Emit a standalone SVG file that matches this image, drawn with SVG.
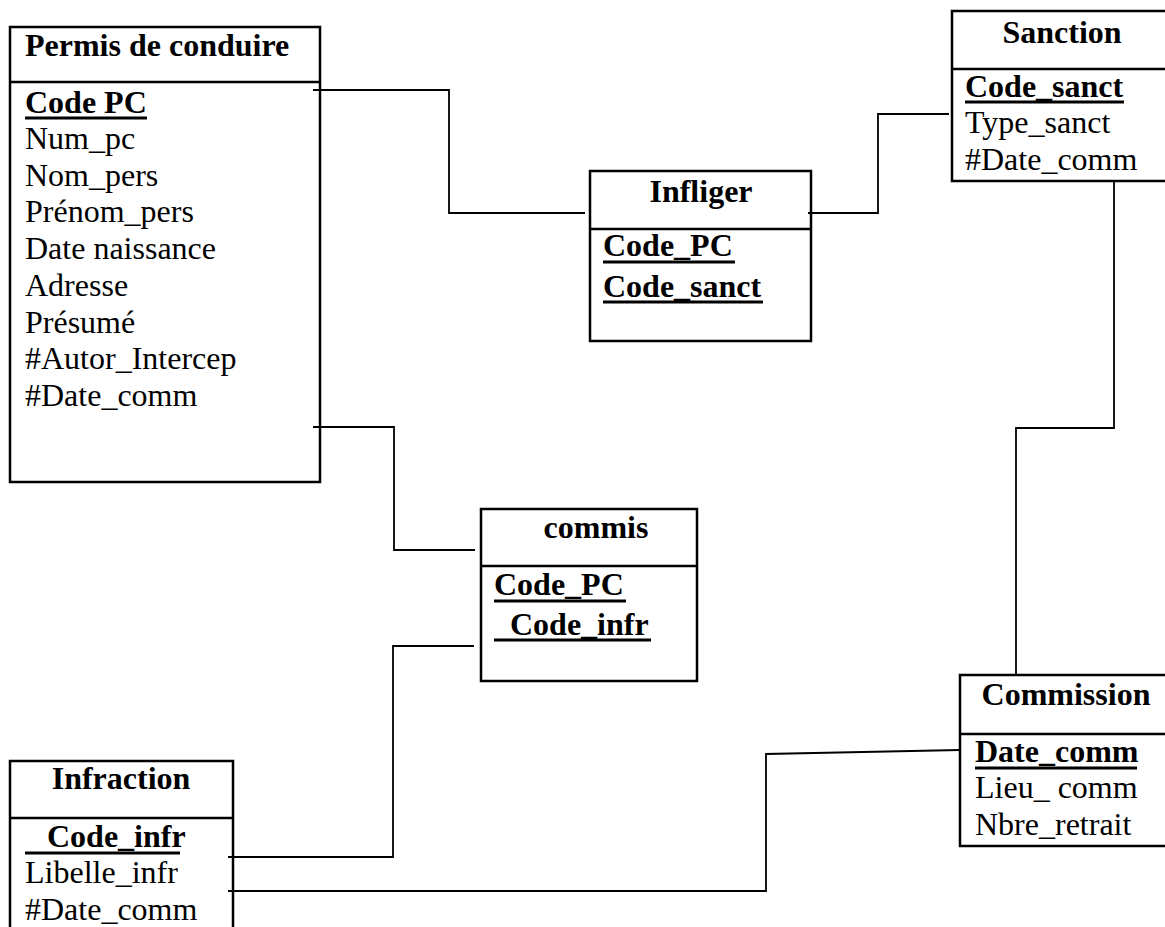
<svg xmlns="http://www.w3.org/2000/svg" width="1165" height="927" viewBox="0 0 1165 927">
<style>
.box{fill:#fff;stroke:#000;stroke-width:2.5}
.div{stroke:#000;stroke-width:2.5}
.ul{stroke:#000;stroke-width:3}
.conn{fill:none;stroke:#000;stroke-width:1.8}
text{font-family:"Liberation Serif","Times New Roman",serif;font-size:32px;fill:#000}
.b{font-weight:bold}
.c{text-anchor:middle}
</style>
<rect width="1165" height="927" fill="#fff"/>
<g id="permis">
<rect class="box" x="10" y="27" width="310" height="455"/>
<line class="div" x1="10" y1="82" x2="320" y2="82"/>
<text class="b" x="25" y="56">Permis de conduire</text>
<text class="b" x="25" y="113">Code PC</text>
<line class="ul" x1="25" y1="118" x2="147" y2="118"/>
<text x="25" y="149">Num_pc</text>
<text x="25" y="186">Nom_pers</text>
<text x="25" y="222">Prénom_pers</text>
<text x="25" y="259">Date naissance</text>
<text x="25" y="296">Adresse</text>
<text x="25" y="333">Présumé</text>
<text x="25" y="369">#Autor_Intercep</text>
<text x="25" y="406">#Date_comm</text>
</g>
<g id="sanction">
<rect class="box" x="952" y="11" width="216" height="170"/>
<line class="div" x1="952" y1="69" x2="1168" y2="69"/>
<text class="b c" x="1062" y="43">Sanction</text>
<text class="b" x="965" y="97">Code_sanct</text>
<line class="ul" x1="965" y1="102" x2="1124" y2="102"/>
<text x="965" y="133">Type_sanct</text>
<text x="965" y="170">#Date_comm</text>
</g>
<g id="infliger">
<rect class="box" x="590" y="171" width="221" height="170"/>
<line class="div" x1="590" y1="229" x2="811" y2="229"/>
<text class="b c" x="701" y="202">Infliger</text>
<text class="b" x="603" y="256">Code_PC</text>
<line class="ul" x1="603" y1="262" x2="735" y2="262"/>
<text class="b" x="603" y="297">Code_sanct</text>
<line class="ul" x1="603" y1="302" x2="763" y2="302"/>
</g>
<g id="commis">
<rect class="box" x="481" y="509" width="216" height="172"/>
<line class="div" x1="481" y1="566" x2="697" y2="566"/>
<text class="b c" x="596" y="538">commis</text>
<text class="b" x="494" y="595">Code_PC</text>
<line class="ul" x1="494" y1="601" x2="626" y2="601"/>
<text class="b" x="510" y="635">Code_infr</text>
<line class="ul" x1="494" y1="640" x2="651" y2="640"/>
</g>
<g id="commission">
<rect class="box" x="960" y="675" width="208" height="171"/>
<line class="div" x1="960" y1="734" x2="1168" y2="734"/>
<text class="b c" x="1066" y="705">Commission</text>
<text class="b" x="975" y="762">Date_comm</text>
<line class="ul" x1="975" y1="768" x2="1137" y2="768"/>
<text x="975" y="798">Lieu_ comm</text>
<text x="975" y="835">Nbre_retrait</text>
</g>
<g id="infraction">
<rect class="box" x="10" y="761" width="223" height="180"/>
<line class="div" x1="10" y1="818" x2="233" y2="818"/>
<text class="b c" x="121" y="789">Infraction</text>
<text class="b" x="47" y="847">Code_infr</text>
<line class="ul" x1="25" y1="853" x2="180" y2="853"/>
<text x="25" y="883">Libelle_infr</text>
<text x="25" y="920">#Date_comm</text>
</g>
<g id="connectors">
<polyline class="conn" points="313,90 449,90 449,213 585,213"/>
<polyline class="conn" points="313,427 394,427 394,550 475,550"/>
<polyline class="conn" points="474,646 393,646 393,857 228,857"/>
<polyline class="conn" points="228,891 766,891 766,754 960,750"/>
<polyline class="conn" points="808,213 878,213 878,114 949,114"/>
<polyline class="conn" points="1114,182 1114,428 1016,428 1016,675"/>
</g>
</svg>
